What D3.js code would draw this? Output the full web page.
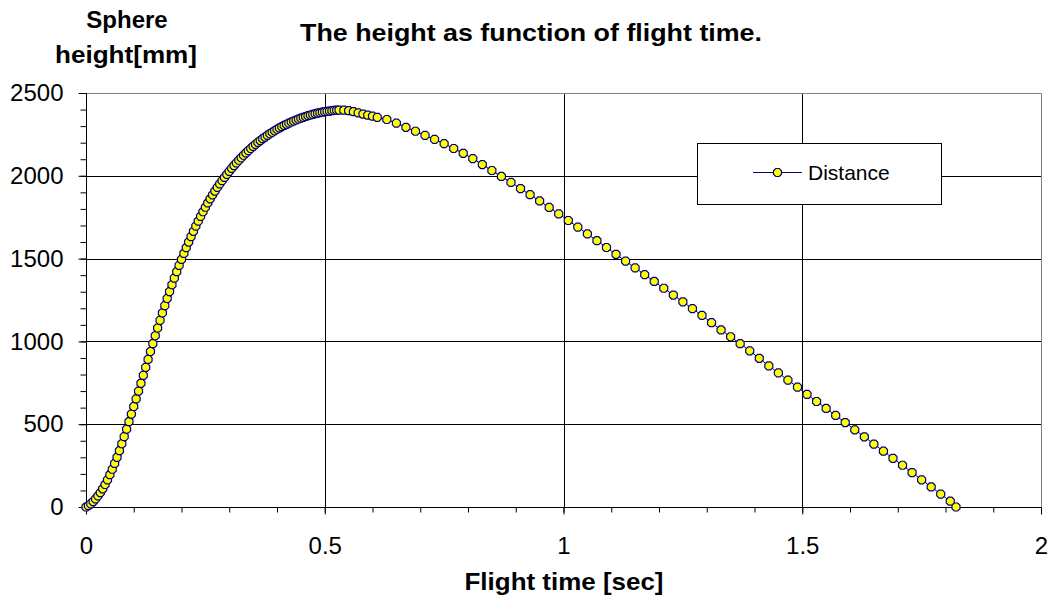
<!DOCTYPE html>
<html>
<head>
<meta charset="utf-8">
<script src="https://cdn.jsdelivr.net/npm/d3@7"></script>
<style>
  body { margin: 0; background: #fff; }
  text { font-family: "Liberation Sans", Arial, sans-serif; fill: #000; }
</style>
</head>
<body>
<script>
// Flight time [sec] of every measured point.
const flightTime = [
  0, 0.005, 0.01, 0.015, 0.02, 0.025, 0.03, 0.035, 0.04, 0.045,
  0.05, 0.055, 0.06, 0.065, 0.07, 0.075, 0.08, 0.085, 0.09, 0.095,
  0.1, 0.105, 0.11, 0.115, 0.12, 0.125, 0.13, 0.135, 0.14, 0.145,
  0.15, 0.155, 0.16, 0.165, 0.17, 0.175, 0.18, 0.185, 0.19, 0.195,
  0.2, 0.205, 0.21, 0.215, 0.22, 0.225, 0.23, 0.235, 0.24, 0.245,
  0.25, 0.255, 0.26, 0.265, 0.27, 0.275, 0.28, 0.285, 0.29, 0.295,
  0.3, 0.305, 0.31, 0.315, 0.32, 0.325, 0.33, 0.335, 0.34, 0.345,
  0.35, 0.355, 0.36, 0.365, 0.37, 0.375, 0.38, 0.385, 0.39, 0.395,
  0.4, 0.405, 0.41, 0.415, 0.42, 0.425, 0.43, 0.435, 0.44, 0.445,
  0.45, 0.455, 0.46, 0.465, 0.47, 0.475, 0.48, 0.485, 0.49, 0.495,
  0.5, 0.505, 0.51, 0.515, 0.52, 0.525, 0.53,
  0.54, 0.55, 0.56, 0.57, 0.58, 0.59, 0.6, 0.61,
  0.63, 0.65, 0.67, 0.69, 0.71, 0.73, 0.75, 0.77, 0.79, 0.81,
  0.83, 0.85, 0.87, 0.89, 0.91, 0.93, 0.95, 0.97, 0.99, 1.01,
  1.03, 1.05, 1.07, 1.09, 1.11, 1.13, 1.15, 1.17, 1.19, 1.21,
  1.23, 1.25, 1.27, 1.29, 1.31, 1.33, 1.35, 1.37, 1.39, 1.41,
  1.43, 1.45, 1.47, 1.49, 1.51, 1.53, 1.55, 1.57, 1.59, 1.61,
  1.63, 1.65, 1.67, 1.69, 1.71, 1.73, 1.75, 1.77, 1.79, 1.81,
  1.822
];

// Sphere height [mm] for each point above.
const sphereHeight = [
  0, 8, 19, 33, 49, 67, 87, 110, 136, 164,
  195, 228, 263, 300, 340, 382, 425, 470, 515, 561,
  607, 653, 700, 747, 795, 843, 891, 939, 987, 1034,
  1081, 1127, 1172, 1216, 1259, 1301, 1342, 1382, 1421, 1459,
  1495, 1531, 1566, 1600, 1633, 1665, 1696, 1726, 1755, 1783,
  1810, 1836, 1861, 1885, 1908, 1930, 1951, 1971, 1990, 2009,
  2027, 2045, 2062, 2078, 2094, 2109, 2124, 2138, 2152, 2165,
  2178, 2190, 2202, 2213, 2224, 2234, 2244, 2254, 2263, 2272,
  2281, 2289, 2297, 2304, 2311, 2318, 2325, 2331, 2337, 2343,
  2348, 2353, 2358, 2363, 2367, 2371, 2375, 2378, 2381, 2384,
  2387, 2389, 2391, 2393, 2395, 2396, 2397,
  2396, 2393, 2387, 2380, 2373, 2366, 2360, 2353,
  2340, 2318, 2293, 2269, 2244, 2220, 2194, 2165, 2136, 2104,
  2068, 2032, 1996, 1960, 1923, 1886, 1848, 1809, 1770, 1730,
  1690, 1649, 1608, 1567, 1526, 1485, 1444, 1403, 1362, 1321,
  1280, 1239, 1198, 1157, 1113, 1069, 1028, 986, 943, 898,
  852, 810, 766, 724, 680, 637, 595, 553, 510, 466,
  424, 380, 337, 294, 252, 208, 164, 121, 78, 35,
  0
];

const xTicks = [0, 0.5, 1, 1.5, 2];
const xMinorTicks = [0, 0.1, 0.2, 0.3, 0.4, 0.5, 0.6, 0.7, 0.8, 0.9, 1, 1.1, 1.2, 1.3, 1.4, 1.5, 1.6, 1.7, 1.8, 1.9, 2];
const yTicks = [0, 500, 1000, 1500, 2000, 2500];
const yMinorTicks = [0, 100, 200, 300, 400, 500, 600, 700, 800, 900, 1000, 1100, 1200, 1300, 1400, 1500, 1600, 1700, 1800, 1900, 2000, 2100, 2200, 2300, 2400, 2500];
const seriesName = "Distance";

const width = 1051;
const height = 605;
const plot = { left: 86, right: 1041, top: 93, bottom: 507 };

const navy = "#000080";
const yellow = "#ffff00";

let svg = d3.select("body")
    .append("svg")
    .attr("width", width)
    .attr("height", height);

let x = d3.scaleLinear().domain([0, 2]).range([plot.left, plot.right]);
let y = d3.scaleLinear().domain([0, 2500]).range([plot.bottom, plot.top]);

// Gridlines (major only), black inside, grey frame on top and right.
svg.append("g").selectAll("line")
    .data(yTicks.filter(d => d > 0 && d < 2500))
    .enter().append("line")
    .attr("x1", plot.left).attr("x2", plot.right)
    .attr("y1", d => Math.round(y(d)) + 0.5).attr("y2", d => Math.round(y(d)) + 0.5)
    .attr("stroke", "#000");

svg.append("g").selectAll("line")
    .data(xTicks.filter(d => d > 0 && d < 2))
    .enter().append("line")
    .attr("y1", plot.top).attr("y2", plot.bottom)
    .attr("x1", d => Math.round(x(d)) + 0.5).attr("x2", d => Math.round(x(d)) + 0.5)
    .attr("stroke", "#000");

svg.append("path")
    .attr("d", `M${plot.left},${Math.round(y(2500)) + 0.5}H${Math.round(x(2)) + 0.5}V${plot.bottom}`)
    .attr("fill", "none")
    .attr("stroke", "#808080");

// Axes: minor ticks first, then major ticks with labels.
function styleAxis(g) {
  g.select(".domain").remove();
  g.selectAll("line").attr("stroke", "#000");
  g.selectAll("text")
      .style("font-family", "'Liberation Sans', Arial, sans-serif")
      .style("font-size", "24px");
}

svg.append("g")
    .attr("transform", `translate(${plot.left + 0.5},0)`)
    .call(d3.axisLeft(y).tickValues(yMinorTicks).tickSize(6).tickFormat(""))
    .call(styleAxis);

svg.append("g")
    .attr("transform", `translate(${plot.left + 0.5},0)`)
    .call(d3.axisLeft(y).tickValues(yTicks).tickSize(8).tickPadding(15).tickFormat(d3.format("d")))
    .call(styleAxis);

svg.append("g")
    .attr("transform", `translate(0,${plot.bottom + 0.5})`)
    .call(d3.axisBottom(x).tickValues(xMinorTicks).tickSize(5).tickFormat(""))
    .call(styleAxis);

svg.append("g")
    .attr("transform", `translate(0,${plot.bottom + 0.5})`)
    .call(d3.axisBottom(x).tickValues(xTicks).tickSize(7).tickPadding(22).tickFormat(d3.format("")))
    .call(styleAxis);

svg.append("line")
    .attr("x1", plot.left + 0.5).attr("x2", plot.left + 0.5)
    .attr("y1", plot.top).attr("y2", plot.bottom + 1)
    .attr("stroke", "#000");

svg.append("line")
    .attr("x1", plot.left).attr("x2", plot.right + 1)
    .attr("y1", plot.bottom + 0.5).attr("y2", plot.bottom + 0.5)
    .attr("stroke", "#000");

// Series: thin navy line with yellow octagon markers.
let points = flightTime.map((t, i) => ({ t: t, h: sphereHeight[i] }));

let line = d3.line()
    .x(d => x(d.t))
    .y(d => y(d.h));

svg.append("path")
    .datum(points)
    .attr("d", line)
    .attr("fill", "none")
    .attr("stroke", navy)
    .attr("stroke-width", 1);

const marker = "M-1.7,-4H1.7L4,-1.7V1.7L1.7,4H-1.7L-4,1.7V-1.7Z";

svg.append("g").selectAll("path")
    .data(points)
    .enter().append("path")
    .attr("d", marker)
    .attr("transform", d => "translate(" + x(d.t) + "," + y(d.h) + ")")
    .attr("fill", yellow)
    .attr("stroke", navy)
    .attr("stroke-width", 1.2);

// Legend box.
let legend = svg.append("g");
legend.append("rect")
    .attr("x", 697.5).attr("y", 143.5)
    .attr("width", 244).attr("height", 61)
    .attr("fill", "#fff")
    .attr("stroke", "#000");
legend.append("line")
    .attr("x1", 753).attr("x2", 802)
    .attr("y1", 172.5).attr("y2", 172.5)
    .attr("stroke", navy);
legend.append("path")
    .attr("d", marker)
    .attr("transform", "translate(777.5,172.5)")
    .attr("fill", yellow)
    .attr("stroke", navy)
    .attr("stroke-width", 1.2);
legend.append("text")
    .attr("x", 808).attr("y", 180)
    .style("font-size", "21px")
    .text(seriesName);

// Titles.
svg.append("text")
    .attr("x", 531).attr("y", 41)
    .attr("text-anchor", "middle")
    .attr("textLength", 462)
    .attr("lengthAdjust", "spacingAndGlyphs")
    .style("font-size", "24px")
    .style("font-weight", "bold")
    .text("The height as function of flight time.");

svg.append("text")
    .attr("x", 127).attr("y", 28)
    .attr("text-anchor", "middle")
    .style("font-size", "24px")
    .style("font-weight", "bold")
    .text("Sphere");

svg.append("text")
    .attr("x", 126).attr("y", 63)
    .attr("text-anchor", "middle")
    .attr("textLength", 142)
    .attr("lengthAdjust", "spacingAndGlyphs")
    .style("font-size", "24px")
    .style("font-weight", "bold")
    .text("height[mm]");

svg.append("text")
    .attr("x", 564).attr("y", 590)
    .attr("text-anchor", "middle")
    .attr("textLength", 199)
    .attr("lengthAdjust", "spacingAndGlyphs")
    .style("font-size", "24px")
    .style("font-weight", "bold")
    .text("Flight time [sec]");
</script>
</body>
</html>
